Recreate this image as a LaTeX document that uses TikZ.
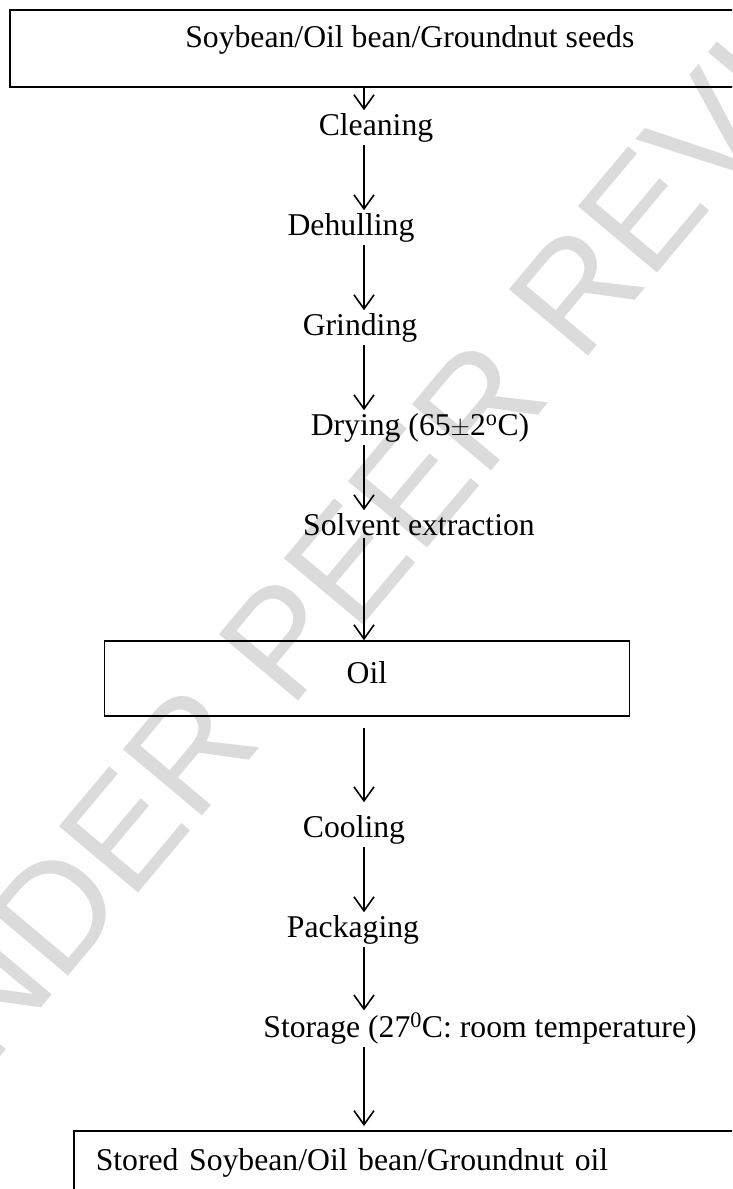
\documentclass[tikz,border=0pt]{standalone}
\usepackage{fontspec}
\setmainfont{Liberation Serif}
\newfontfamily\markfont{Liberation Sans}
\usetikzlibrary{arrows.meta,positioning}

\begin{document}
\begin{tikzpicture}[x=1pt, y=-1pt, line width=1.6pt, >={Straight Barb[length=14pt,width=20pt]},
  every node/.style={font=\fontsize{31.7}{38}\selectfont, inner sep=2pt},
  stage/.style={anchor=base},
  box/.style={draw, inner sep=0pt}]
\clip (0,0) rectangle (732,1189);
% watermark
\node[rotate=50, text=black!14, font=\markfont\fontsize{150}{150}\selectfont] (mark) at (402,499) {UNDER PEER REVIEW};
\coordinate (axis) at (364,0);
\node[box, anchor=north west, minimum width=800pt, minimum height=77pt, text height=22pt, text depth=23pt] (seeds) at (9,9) {Soybean/Oil bean/Groundnut seeds};
\node[stage] (clean) at (376,135) {Cleaning};
\node[stage] (dehull) at (351,235) {Dehulling};
\node[stage] (grind) at (360,335) {Grinding};
\node[stage] (dry) at (420,435) {Drying (65$\pm$2\textsuperscript{o}C)};
\node[stage] (solvent) at (419,535) {Solvent extraction};
\node[box, minimum width=525pt, minimum height=75pt, text height=21pt, text depth=12pt] (oil) at (367,678.5) {Oil};
\node[stage] (cool) at (354,837) {Cooling};
\node[stage] (pack) at (353,937) {Packaging};
\node[stage] (store) at (480,1037) {Storage (27\textsuperscript{0}C: room temperature)};
\node[box, anchor=north west, inner xsep=22pt, inner ysep=19pt, text width=660pt, align=left, text height=21pt, text depth=31pt] (stored) at (73,1130) {Stored Soybean/Oil bean/Groundnut oil};
% flow
\draw[->] (seeds.south -| axis) -- (clean.north -| axis);
\draw[->] (clean.south -| axis) -- (dehull.north -| axis);
\draw[->] (dehull.south -| axis) -- (grind.north -| axis);
\draw[->] (grind.south -| axis) -- (dry.north -| axis);
\draw[->] (dry.south -| axis) -- (solvent.north -| axis);
\draw[->] (solvent.south -| axis) -- (oil.north -| axis);
\draw[->, shorten <=11pt, shorten >=10pt] (oil.south -| axis) -- (cool.north -| axis);
\draw[->] (cool.south -| axis) -- (pack.north -| axis);
\draw[->] (pack.south -| axis) -- (store.north -| axis);
\draw[->, shorten >=4pt] (store.south -| axis) -- (stored.north -| axis);
\end{tikzpicture}
\end{document}
